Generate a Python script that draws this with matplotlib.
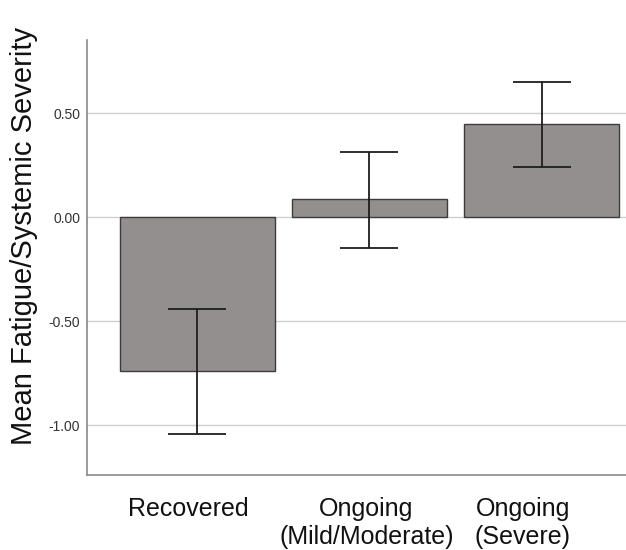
import matplotlib
matplotlib.use('Agg')
import matplotlib.pyplot as plt
import matplotlib.transforms as mtransforms
import numpy as np

plt.rcParams['font.family'] = ['Liberation Sans', 'DejaVu Sans']

# data
groups = ['Recovered', 'Ongoing\n(Mild/Moderate)', 'Ongoing\n(Severe)']
means = [-0.74, 0.086, 0.447]
ci_low = [-1.043, -0.149, 0.240]
ci_high = [-0.44, 0.312, 0.649]
yticks = [-1.0, -0.5, 0.0, 0.5]

fig = plt.figure(figsize=(6.26, 5.5), dpi=100)
ax = fig.add_axes([0.139, 0.136, 0.861, 0.791])

x = np.arange(len(groups))
yerr = [np.array(means) - np.array(ci_low), np.array(ci_high) - np.array(means)]

ax.bar(x, means, width=0.9, color='#948f8f', edgecolor='#3c3c3c',
       linewidth=1.0, zorder=2)
ax.errorbar(x, means, yerr=yerr, fmt='none', ecolor='#1e1e1e',
            elinewidth=1.3, capsize=21, capthick=1.3, zorder=3)

ax.set_xlim(-0.64, 2.49)
ax.set_ylim(-1.24, 0.85)
ax.set_yticks(yticks)
ax.set_yticklabels(['%.2f' % v for v in yticks], fontsize=10, color='#333333')
ax.set_xticks(x)
ax.set_xticklabels(groups, fontsize=18, color='#111111', va='top',
                   linespacing=1.2)
ax.tick_params(axis='both', length=0)
ax.tick_params(axis='x', pad=15.5)
ax.tick_params(axis='y', pad=5)

# SPSS places the wrapped labels a little left of the bar centres
shifts = [-9, -3, -19]
for lab, dx in zip(ax.get_xticklabels(), shifts):
    off = mtransforms.ScaledTranslation(dx / 100, 0, fig.dpi_scale_trans)
    lab.set_transform(lab.get_transform() + off)

ax.yaxis.grid(True, color='#cfcfcf', linewidth=1.0, zorder=0)
ax.set_axisbelow(True)
for s in ['top', 'right']:
    ax.spines[s].set_visible(False)
for s in ['left', 'bottom']:
    ax.spines[s].set_color('#8a8a8a')
    ax.spines[s].set_linewidth(1.2)

fig.text(0.038, 0.571, 'Mean Fatigue/Systemic Severity', fontsize=21,
         color='#111111', rotation=90, ha='center', va='center')

fig.savefig('out.png', dpi=100)
plt.close('all')
